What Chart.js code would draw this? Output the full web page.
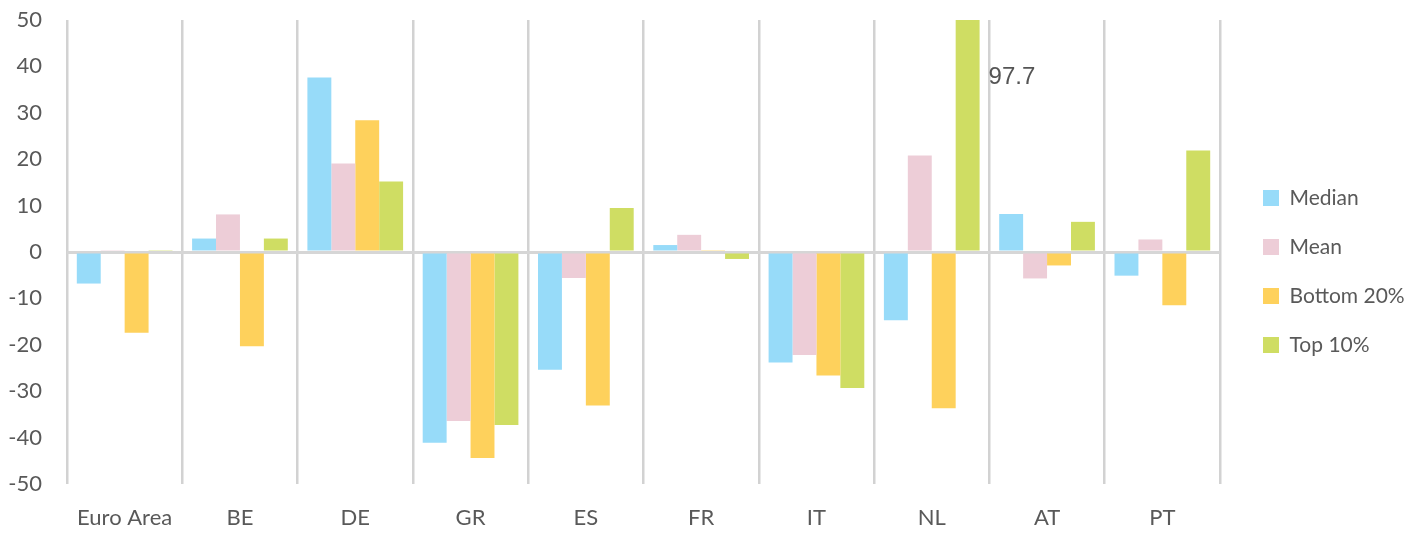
<!DOCTYPE html>
<html>
<head>
<meta charset="utf-8">
<script src="https://cdn.jsdelivr.net/npm/chart.js@4/dist/chart.umd.min.js"></script>
<style>
  html, body { margin: 0; padding: 0; background: #ffffff; }
  #wrap { width: 1418px; height: 535px; position: relative; }
</style>
</head>
<body>
<div id="wrap"><canvas id="c" width="1418" height="535"></canvas></div>
<script>
const categories = ['Euro Area', 'BE', 'DE', 'GR', 'ES', 'FR', 'IT', 'NL', 'AT', 'PT'];
const seriesNames = ['Median', 'Mean', 'Bottom 20%', 'Top 10%'];
const median   = [-6.8, 2.9, 37.6, -41.1, -25.4, 1.5, -23.8, -14.7, 8.2, -5.1];
const mean     = [0.4, 8.1, 19.1, -36.4, -5.6, 3.7, -22.2, 20.8, -5.7, 2.7];
const bottom20 = [-17.4, -20.3, 28.4, -44.4, -33.1, 0.4, -26.6, -33.7, -2.9, -11.5];
const top10    = [0.4, 2.9, 15.2, -37.3, 9.5, -1.5, -29.3, 97.7, 6.5, 21.9];
const yTicks = [-50, -40, -30, -20, -10, 0, 10, 20, 30, 40, 50];

const colors = ['#97dbf9', '#edcdd7', '#fed15c', '#cfdd63'];
const seriesData = [median, mean, bottom20, top10];

const yMin = yTicks[0], yMax = yTicks[yTicks.length - 1];

// label values beyond axis max
const overflowLabel = {
  id: 'overflowLabel',
  afterDatasetsDraw(chart) {
    const ctx = chart.ctx;
    const ys = chart.scales.y;
    chart.data.datasets.forEach((ds, di) => {
      const meta = chart.getDatasetMeta(di);
      ds.data.forEach((v, i) => {
        if (v > yMax) {
          const bar = meta.data[i];
          ctx.save();
          ctx.font = '24px "Liberation Sans", Arial, sans-serif';
          ctx.fillStyle = '#555555';
          ctx.textAlign = 'left';
          ctx.textBaseline = 'middle';
          ctx.fillText(String(v), bar.x + bar.width / 2 + 9, ys.getPixelForValue(yMax - 12.3));
          ctx.restore();
        }
      });
    });
  }
};

const legendPlace = {
  id: 'legendPlace',
  beforeInit(chart) {
    const lg = chart.legend;
    if (!lg) return;
    const f = lg.fit;
    lg.fit = function () { f.call(this); this.width = 198; };
  },
  afterLayout(chart) {
    const lg = chart.legend;
    if (!lg) return;
    const dx = 15, dy = -6;
    lg.left += dx; lg.right += dx;
    lg.top += dy; lg.bottom += dy;
  }
};

new Chart(document.getElementById('c'), {
  type: 'bar',
  data: {
    labels: categories,
    datasets: seriesNames.map((name, k) => ({
      label: name,
      data: seriesData[k],
      backgroundColor: colors[k],
      borderWidth: 0,
      categoryPercentage: 0.83,
      barPercentage: 1.0
    }))
  },
  options: {
    responsive: false,
    animation: false,
    layout: { padding: { top: 20, right: 0, bottom: 0, left: 0 } },
    plugins: {
      tooltip: { enabled: false },
      legend: {
        position: 'right',
        labels: {
          boxWidth: 16,
          boxHeight: 16,
          padding: 28,
          color: '#595959',
          font: { family: 'Lato', size: 21 }
        }
      }
    },
    scales: {
      x: {
        grid: {
          display: true,
          offset: true,
          drawTicks: false,
          color: '#d2d2d2',
          lineWidth: 2.5
        },
        border: { display: false },
        ticks: {
          padding: 21,
          color: '#595959',
          font: { family: 'Lato', size: 22 },
          maxRotation: 0
        },
        afterFit(scale) { scale.height = 51; }
      },
      y: {
        min: yMin,
        max: yMax,
        afterBuildTicks(scale) { scale.ticks = yTicks.map(v => ({ value: v })); },
        grid: {
          drawTicks: false,
          color: ctx => (ctx.tick && ctx.tick.value === 0) ? '#d6d6d6' : 'rgba(0,0,0,0)',
          lineWidth: 3
        },
        border: { display: false },
        ticks: {
          padding: 25,
          color: '#595959',
          font: { family: 'Lato', size: 22 }
        },
        afterFit(scale) { scale.width = 67; scale.paddingTop = 0; scale.paddingBottom = 0; }
      }
    }
  },
  plugins: [overflowLabel, legendPlace]
});
</script>
</body>
</html>
